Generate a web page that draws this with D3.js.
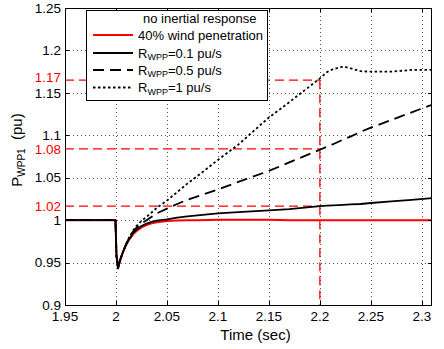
<!DOCTYPE html>
<html><head><meta charset="utf-8">
<script src="https://cdn.jsdelivr.net/npm/d3@7"></script>
<style>body{margin:0;background:#fff}svg{display:block}text{font-family:"Liberation Sans",Arial,sans-serif}</style>
</head><body>
<svg id="c" width="444" height="349"></svg>
<script>
// ---- data ----
const times = [1.95, 1.9995, 2.0005, 2.002, 2.004, 2.007, 2.01, 2.013, 2.017, 2.02, 2.025, 2.03, 2.035, 2.04, 2.05, 2.06, 2.07, 2.08, 2.1, 2.12, 2.15, 2.17, 2.2, 2.207, 2.213, 2.223, 2.23, 2.24, 2.25, 2.27, 2.29, 2.31];
const noInertia = [1, 1, 0.958, 0.944, 0.952, 0.9627, 0.9708, 0.9771, 0.9835, 0.987, 0.9914, 0.9942, 0.9962, 0.9975, 0.9989, 0.9995, 0.9998, 1.0, 1.0005, 1.0005, 1.0004, 1.0, 1.0, 1.0, 1.0, 1.0, 1.0, 1.0, 1.0, 1.0, 1.0, 1.0];
const rwpp01 = [1, 1, 0.958, 0.943, 0.953, 0.963, 0.9715, 0.978, 0.985, 0.9885, 0.993, 0.996, 0.998, 0.9995, 1.001, 1.003, 1.0045, 1.0057, 1.008, 1.0095, 1.0115, 1.013, 1.0165, 1.017, 1.0175, 1.018, 1.0185, 1.019, 1.0202, 1.022, 1.024, 1.026];
const rwpp05 = [1, 1, 0.958, 0.943, 0.953, 0.963, 0.972, 0.979, 0.987, 0.991, 0.996, 1.0, 1.004, 1.008, 1.0135, 1.019, 1.024, 1.028, 1.036, 1.045, 1.058, 1.068, 1.083, 1.0865, 1.0895, 1.095, 1.0985, 1.104, 1.109, 1.118, 1.127, 1.136];
const rwpp1 = [1, 1, 0.958, 0.943, 0.953, 0.963, 0.972, 0.980, 0.988, 0.993, 0.999, 1.004, 1.009, 1.0145, 1.023, 1.033, 1.043, 1.052, 1.071, 1.089, 1.121, 1.139, 1.167, 1.1745, 1.178, 1.181, 1.179, 1.1755, 1.175, 1.175, 1.177, 1.177];
const xTicks = [1.95, 2, 2.05, 2.1, 2.15, 2.2, 2.25, 2.3];
const xTickLabels = ["1.95", "2", "2.05", "2.1", "2.15", "2.2", "2.25", "2.3"];
const yTicks = [0.9, 0.95, 1, 1.05, 1.1, 1.15, 1.2, 1.25];
const yTickLabels = ["0.9", "0.95", "1", "1.05", "1.1", "1.15", "1.2", "1.25"];
const refLevels = [1.165, 1.084, 1.0165];
const refLabels = ["1.17", "1.08", "1.02"];
const refTime = 2.2;
const seriesNames = ["40% wind penetration", "=0.1 pu/s", "=0.5 pu/s", "=1 pu/s"];

// ---- chart ----
const svg = d3.select("#c");
const L = 65, R = 432, T = 8, B = 305;
const x = d3.scaleLinear().domain([1.95, 2.31]).range([L, R]);
const y = d3.scaleLinear().domain([0.9, 1.25]).range([B, T]);

// grid
const g = svg.append("g").attr("stroke", "#555").attr("stroke-width", 1).attr("stroke-dasharray", "1,3");
xTicks.slice(1).forEach(t => g.append("line").attr("x1", Math.round(x(t)) + 0.5).attr("x2", Math.round(x(t)) + 0.5).attr("y1", T).attr("y2", B));
yTicks.slice(1, -1).forEach(v => g.append("line").attr("y1", Math.round(y(v)) + 0.5).attr("y2", Math.round(y(v)) + 0.5).attr("x1", L).attr("x2", R));

// reference red dashed lines
const rg = svg.append("g").attr("stroke", "#ff0000").attr("stroke-width", 1.3).attr("stroke-dasharray", "9,5").attr("fill", "none");
refLevels.forEach(v => rg.append("line").attr("x1", x(1.95)).attr("x2", x(refTime)).attr("y1", y(v)).attr("y2", y(v)));
rg.append("line").attr("x1", x(refTime)).attr("x2", x(refTime)).attr("y1", y(refLevels[0])).attr("y2", y(0.9));

// curves
const line = d3.line().x((d, i) => x(times[i])).y(d => y(d));
const clip = svg.append("clipPath").attr("id", "cp").append("rect").attr("x", L).attr("y", T).attr("width", R - L).attr("height", B - T);
const cg = svg.append("g").attr("clip-path", "url(#cp)").attr("fill", "none");
const styles = [
  {c: "#ff0000", w: 2, d: null},
  {c: "#000", w: 1.8, d: null},
  {c: "#000", w: 1.8, d: "11,6"},
  {c: "#000", w: 1.8, d: "2.5,2.5"}
];
const allSeries = [noInertia, rwpp01, rwpp05, rwpp1];
[noInertia, rwpp05, rwpp1, rwpp01].forEach(s => {
  const st = styles[allSeries.indexOf(s)];
  cg.append("path").attr("d", line(s)).attr("stroke", st.c).attr("stroke-width", st.w).attr("stroke-dasharray", st.d).attr("stroke-linejoin", "round");
});

// axes frame + inward ticks
const ax = svg.append("g").attr("stroke", "#000").attr("stroke-width", 1);
ax.append("rect").attr("x", L + 0.5).attr("y", T + 0.5).attr("width", R - L - 1).attr("height", B - T).attr("fill", "none");
xTicks.forEach(t => {
  const px = Math.round(x(t)) + 0.5;
  ax.append("line").attr("x1", px).attr("x2", px).attr("y1", B).attr("y2", B - 4);
  ax.append("line").attr("x1", px).attr("x2", px).attr("y1", T).attr("y2", T + 4);
});
yTicks.forEach(v => {
  const py = Math.round(y(v)) + 0.5;
  ax.append("line").attr("x1", L).attr("x2", L + 4).attr("y1", py).attr("y2", py);
  ax.append("line").attr("x1", R).attr("x2", R - 4).attr("y1", py).attr("y2", py);
});

// tick labels
xTicks.forEach((t, i) => svg.append("text").attr("x", x(t)).attr("y", 321).attr("text-anchor", "middle").attr("font-size", 13.5).text(xTickLabels[i]));
yTicks.forEach((v, i) => svg.append("text").attr("x", 61).attr("y", y(v) + 4.7).attr("text-anchor", "end").attr("font-size", 13.5).text(yTickLabels[i]));
refLevels.forEach((v, i) => svg.append("text").attr("x", 61).attr("y", y(v) + 4.7 - (i === 0 ? 3 : 0)).attr("text-anchor", "end").attr("font-size", 13.5).attr("fill", "#ff0000").text(refLabels[i]));

// axis titles
svg.append("text").attr("x", (L + R) / 2 + 7).attr("y", 340).attr("text-anchor", "middle").attr("font-size", 15).text("Time (sec)");
const yl = svg.append("text").attr("transform", "translate(21.5,150) rotate(-90)").attr("text-anchor", "middle").attr("font-size", 15);
yl.append("tspan").text("P");
yl.append("tspan").attr("font-size", 10).attr("dy", 3).text("WPP1");
yl.append("tspan").attr("dy", -3).text("  (pu)").attr("xml:space", "preserve");

// legend
const lg = svg.append("g");
lg.append("rect").attr("x", 86.5).attr("y", 10.5).attr("width", 181).attr("height", 90).attr("fill", "#fff").attr("stroke", "#000").attr("stroke-width", 1);
lg.append("text").attr("x", 143).attr("y", 22.5).attr("font-size", 13).text("no inertial response");
const rows = [35, 53, 70, 87.5];
rows.forEach((ry, i) => {
  const st = styles[i];
  lg.append("line").attr("x1", 93).attr("x2", 133).attr("y1", ry).attr("y2", ry).attr("stroke", st.c).attr("stroke-width", st.w).attr("stroke-dasharray", st.d);
  const t = lg.append("text").attr("x", 138).attr("y", ry + 4.5).attr("font-size", 13);
  if (i === 0) t.text(seriesNames[0]);
  else {
    t.append("tspan").text("R");
    t.append("tspan").attr("font-size", 9).attr("dy", 2.5).text("WPP");
    t.append("tspan").attr("dy", -2.5).text(seriesNames[i]);
  }
});
</script>
</body></html>
